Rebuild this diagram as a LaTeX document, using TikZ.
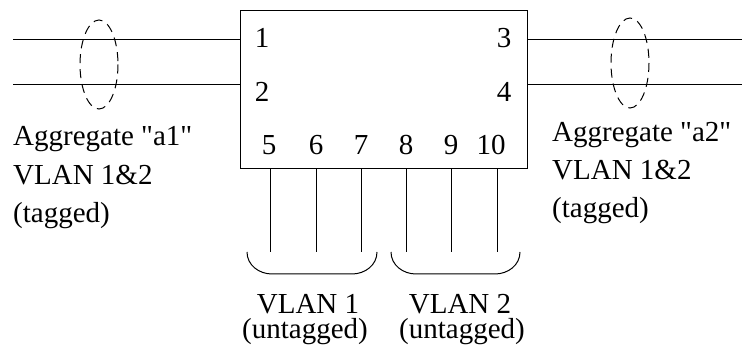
\documentclass[tikz,border=0pt]{standalone}
\usepackage{fontspec}
\setmainfont{Liberation Serif}[Ligatures=TeXOff]
\begin{document}
\begin{tikzpicture}[x=1pt,y=-1pt,
  wire/.style={line width=1pt},
  lbl/.style={inner sep=0pt,font=\fontsize{29}{35}\selectfont},
  agg/.style={dashed,dash pattern=on 9pt off 6pt,line width=1pt},
  brc/.style={line width=1pt}]
\useasboundingbox (0,0) rectangle (744,347);
% switch box
\node[draw,line width=1pt,minimum width=287pt,minimum height=158pt,inner sep=0pt,anchor=north west] (sw) at (240,10) {};
% port labels
\node[lbl,anchor=base] (p1) at (262,48) {1};
\node[lbl,anchor=base] (p2) at (262,102) {2};
\node[lbl,anchor=base] (p3) at (504,48) {3};
\node[lbl,anchor=base] (p4) at (504,102) {4};
\node[lbl,anchor=base] (p5) at (269,155) {5};
\node[lbl,anchor=base] (p6) at (316,155) {6};
\node[lbl,anchor=base] (p7) at (361,155) {7};
\node[lbl,anchor=base] (p8) at (406,155) {8};
\node[lbl,anchor=base] (p9) at (451,155) {9};
\node[lbl,anchor=base] (p10) at (491,155) {10};
% left links
\coordinate (l1) at (13,40);
\coordinate (l2) at (13,85);
\draw[wire] (l1) -- (l1 -| sw.west);
\draw[wire] (l2) -- (l2 -| sw.west);
% right links
\coordinate (r1) at (742,40);
\coordinate (r2) at (742,85);
\draw[wire] (r1 -| sw.east) -- (r1);
\draw[wire] (r2 -| sw.east) -- (r2);
% aggregate ellipses
\draw[agg] (99,64.5) ellipse [x radius=19, y radius=44.5];
\draw[agg] (630,63) ellipse [x radius=19, y radius=45];
% downlinks
\foreach \x/\n in {270/5,316/6,361/7,406/8,451/9,497/10}{
  \coordinate (d\n) at (\x,252);
  \draw[wire] (d\n |- sw.south) -- (d\n);
}
% braces
\draw[brc] (247,252) to[out=-90,in=180] (272,274) -- (352,274) to[out=0,in=-90] (377,252);
\draw[brc] (391,252) to[out=-90,in=180] (416,274) -- (495,274) to[out=0,in=-90] (520,252);
% left text
\node[lbl,anchor=base west] (ta1) at (13,146) {Aggregate "a1"};
\node[lbl,anchor=base west] (ta2) at (13,185) {VLAN 1\&2};
\node[lbl,anchor=base west] (ta3) at (13,223) {(tagged)};
% right text
\node[lbl,anchor=base west] (tb1) at (552,142) {Aggregate "a2"};
\node[lbl,anchor=base west] (tb2) at (552,180) {VLAN 1\&2};
\node[lbl,anchor=base west] (tb3) at (552,218) {(tagged)};
% bottom text
\node[lbl,anchor=base] (v1) at (308,313) {VLAN 1};
\node[lbl,anchor=base] (u1) at (305,338) {(untagged)};
\node[lbl,anchor=base] (v2) at (460,313) {VLAN 2};
\node[lbl,anchor=base] (u2) at (462,338) {(untagged)};
\end{tikzpicture}
\end{document}
